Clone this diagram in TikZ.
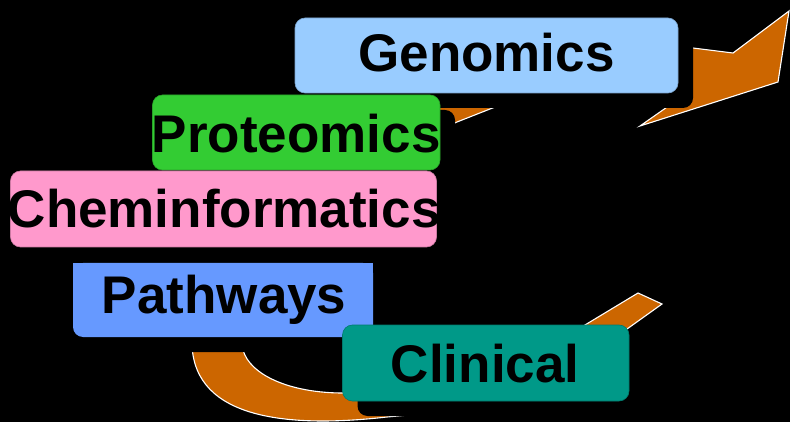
\documentclass[tikz,border=0pt]{standalone}
\usepackage{fontspec}
\setmainfont{Liberation Sans}
\definecolor{genblue}{HTML}{99CCFF}
\definecolor{protgreen}{HTML}{33CC33}
\definecolor{chempink}{HTML}{FF99CC}
\definecolor{pathblue}{HTML}{6699FF}
\definecolor{clinteal}{HTML}{009988}
\definecolor{orng}{HTML}{CC6600}
\begin{document}
\begin{tikzpicture}[x=1pt,y=-1pt,
  box/.style={rounded corners=10pt, draw=#1!80!black, line width=0.6pt, fill=#1, inner sep=0pt},
  plainbox/.style={rounded corners=10pt, fill=#1, inner sep=0pt},
  shade/.style={fill=black, rounded corners=10pt, inner sep=0pt},
  lbl/.style={anchor=base, inner sep=0pt, font=\fontsize{53}{60}\selectfont\bfseries, text=black},
  band/.style={fill=orng, draw=white, line width=1.1pt, line join=miter}]
\fill[black] (0,0) rectangle (790,422);
\useasboundingbox (0,0) rectangle (790,422);

% upper curved arrow (behind Genomics)
\path[band] (400,150) -- (457,122) -- (490,109) -- (540,90) -- (680,98) -- (640,126)
  -- (778,82) -- (789,11) -- (733,53) -- (693,48) -- (560,40) -- (420,95) -- cycle;

% lower curved arrow (behind Pathways and Clinical)
\path[band] (243,340) -- (243,350) .. controls (250,375) and (290,393) .. (343,393)
  -- (470,382) -- (575,331) -- (638,293) -- (662,304) -- (620,334) -- (520,400)
  -- (420,414) -- (387,417) .. controls (290,428) and (195,420) .. (192,345) -- (192,340) -- cycle;

% Genomics
\node[shade, minimum width=383pt, minimum height=75pt] (genS) at (501.5,70.5) {};
\node[box=genblue, minimum width=383pt, minimum height=75pt] (gen) at (486.5,55.5) {};
\node[lbl] (genT) at (486.5,71.5) {Genomics};

% Proteomics
\node[shade, minimum width=287.5pt, minimum height=75pt] (protS) at (311.25,147.5) {};
\node[box=protgreen, minimum width=287.5pt, minimum height=75pt] (prot) at (296.25,132.5) {};
\node[lbl] (protT) at (296.2,153) {Proteomics};

% Cheminformatics
\node[shade, minimum width=426pt, minimum height=76pt] (chemS) at (238.5,224) {};
\node[box=chempink, minimum width=426pt, minimum height=76pt] (chem) at (223.5,209) {};
\node[lbl] (chemT) at (224.2,227.5) {Cheminformatics};

% Pathways
\node[shade, minimum width=300pt, minimum height=74pt] (pathS) at (238,315) {};
\node[plainbox=pathblue, minimum width=300pt, minimum height=74pt] (path) at (223,300) {};
\fill[pathblue] (73,263) rectangle (373,295);
\node[lbl] (pathT) at (224.2,313) {Pathways};

% Clinical
\node[shade, minimum width=286.5pt, minimum height=76pt] (clinS) at (500.75,378) {};
\node[box=clinteal, minimum width=286.5pt, minimum height=76pt] (clin) at (485.75,363) {};
\node[lbl] (clinT) at (485.2,382.5) {Clinical};
\end{tikzpicture}
\end{document}
